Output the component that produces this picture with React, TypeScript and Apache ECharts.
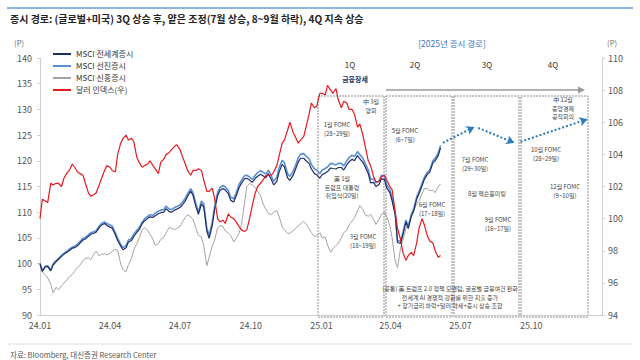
import React, { useEffect, useRef } from 'react';
import * as echarts from 'echarts';

const FONT = '"Noto Sans CJK KR", "Noto Sans", sans-serif';

// observation dates (Mon / Thu)
const dates = [
  '2024-01-01','2024-01-04','2024-01-08','2024-01-11','2024-01-15','2024-01-18','2024-01-22','2024-01-25','2024-01-29','2024-02-01',
  '2024-02-05','2024-02-08','2024-02-12','2024-02-15','2024-02-19','2024-02-22','2024-02-26','2024-02-29','2024-03-04','2024-03-07',
  '2024-03-11','2024-03-14','2024-03-18','2024-03-21','2024-03-25','2024-03-28','2024-04-01','2024-04-04','2024-04-08','2024-04-11',
  '2024-04-15','2024-04-18','2024-04-22','2024-04-25','2024-04-29','2024-05-02','2024-05-06','2024-05-09','2024-05-13','2024-05-16',
  '2024-05-20','2024-05-23','2024-05-27','2024-05-30','2024-06-03','2024-06-06','2024-06-10','2024-06-13','2024-06-17','2024-06-20',
  '2024-06-24','2024-06-27','2024-07-01','2024-07-04','2024-07-08','2024-07-11','2024-07-15','2024-07-18','2024-07-22','2024-07-25',
  '2024-07-29','2024-08-01','2024-08-05','2024-08-08','2024-08-12','2024-08-15','2024-08-19','2024-08-22','2024-08-26','2024-08-29',
  '2024-09-02','2024-09-05','2024-09-09','2024-09-12','2024-09-16','2024-09-19','2024-09-23','2024-09-26','2024-09-30','2024-10-03',
  '2024-10-07','2024-10-10','2024-10-14','2024-10-17','2024-10-21','2024-10-24','2024-10-28','2024-10-31','2024-11-04','2024-11-07',
  '2024-11-11','2024-11-14','2024-11-18','2024-11-21','2024-11-25','2024-11-28','2024-12-02','2024-12-05','2024-12-09','2024-12-12',
  '2024-12-16','2024-12-19','2024-12-23','2024-12-26','2024-12-30','2025-01-02','2025-01-06','2025-01-09','2025-01-13','2025-01-16',
  '2025-01-20','2025-01-23','2025-01-27','2025-01-30','2025-02-03','2025-02-06','2025-02-10','2025-02-13','2025-02-17','2025-02-20',
  '2025-02-24','2025-02-27','2025-03-03','2025-03-06','2025-03-10','2025-03-13','2025-03-17','2025-03-20','2025-03-24','2025-03-27',
  '2025-03-31','2025-04-03','2025-04-07','2025-04-10','2025-04-14','2025-04-17','2025-04-21','2025-04-24','2025-04-28','2025-05-01',
  '2025-05-05','2025-05-08','2025-05-12','2025-05-15','2025-05-19','2025-05-22','2025-05-26','2025-05-29','2025-06-02','2025-06-05',
];

// MSCI ACWI (2023-12-29 = 100)
const acwi = [
  100.0, 98.5, 99.4, 99.4, 98.6, 99.7, 100.4, 100.8, 101.4, 101.8,
  102.2, 102.5, 103.0, 103.1, 103.5, 104.0, 104.6, 104.8, 105.3, 105.7,
  105.9, 106.1, 107.0, 107.5, 107.8, 107.4, 107.1, 106.9, 105.6, 104.5,
  103.4, 102.7, 103.1, 104.2, 104.5, 105.3, 106.1, 106.6, 107.8, 108.3,
  108.8, 109.1, 109.0, 109.3, 109.7, 109.9, 110.0, 110.7, 110.1, 110.0,
  110.4, 110.6, 110.9, 111.4, 112.2, 113.1, 114.1, 113.3, 111.0, 109.6,
  111.6, 111.0, 106.3, 104.9, 107.4, 110.4, 113.2, 114.2, 114.6, 114.3,
  113.6, 112.3, 112.0, 113.1, 114.8, 115.6, 116.5, 116.6, 116.2, 115.8,
  116.6, 117.0, 117.4, 117.1, 116.7, 117.5, 116.3, 115.3, 116.0, 117.8,
  119.3, 118.8, 116.7, 116.2, 117.1, 118.2, 119.8, 120.5, 120.5, 120.0,
  119.5, 118.4, 117.5, 117.3, 116.6, 117.3, 117.6, 117.9, 118.6, 118.5,
  118.4, 118.7, 118.7, 118.2, 119.2, 119.8, 120.3, 120.0, 121.0, 120.4,
  119.7, 118.8, 117.5, 115.7, 115.8, 115.0, 115.4, 116.5, 116.4, 114.7,
  113.8, 112.2, 109.5, 104.1, 103.9, 105.6, 108.1, 106.8, 109.2, 110.2,
  112.6, 113.6, 115.2, 116.4, 117.4, 117.8, 119.6, 120.0, 121.0, 122.5,
];

// MSCI World (developed markets)
const dm = [
  100.0, 98.6, 99.5, 99.6, 98.8, 99.9, 100.6, 101.0, 101.6, 102.0,
  102.4, 102.8, 103.2, 103.4, 103.8, 104.3, 104.9, 105.1, 105.6, 106.0,
  106.2, 106.4, 107.3, 107.8, 108.1, 107.8, 107.5, 107.3, 106.0, 104.9,
  103.8, 103.1, 103.5, 104.6, 104.9, 105.7, 106.5, 107.0, 108.1, 108.7,
  109.2, 109.5, 109.4, 109.8, 110.2, 110.4, 110.5, 111.2, 110.6, 110.5,
  110.9, 111.1, 111.4, 111.9, 112.7, 113.6, 114.6, 113.8, 111.5, 110.1,
  112.2, 111.6, 106.9, 105.5, 108.0, 111.0, 113.8, 114.8, 115.2, 114.9,
  114.2, 112.9, 112.6, 113.7, 115.4, 116.2, 117.1, 117.2, 116.8, 116.4,
  117.2, 117.7, 118.1, 117.8, 117.4, 118.2, 117.0, 116.0, 116.8, 118.6,
  120.1, 119.6, 117.5, 117.0, 117.9, 119.0, 120.6, 121.3, 121.4, 120.9,
  120.4, 119.3, 118.4, 118.2, 117.5, 118.2, 118.5, 118.8, 119.5, 119.4,
  119.2, 119.5, 119.5, 119.0, 120.0, 120.6, 121.1, 120.8, 121.8, 121.2,
  120.5, 119.5, 118.2, 116.4, 116.5, 115.7, 116.1, 117.2, 117.1, 115.3,
  114.4, 112.8, 110.0, 104.5, 104.3, 106.0, 108.5, 107.2, 109.6, 110.6,
  113.0, 114.0, 115.6, 116.8, 117.8, 118.2, 120.0, 120.5, 121.5, 123.0,
];

// MSCI EM
const em = [
  100.0, 98.3, 97.8, 97.2, 96.0, 94.3, 95.4, 94.9, 95.7, 96.2,
  96.8, 97.4, 97.9, 98.5, 99.3, 99.7, 100.6, 101.0, 101.1, 100.8,
  101.8, 102.4, 101.5, 101.8, 101.9, 101.7, 102.0, 102.4, 102.8, 102.6,
  99.9, 98.8, 98.4, 99.8, 101.0, 102.7, 103.9, 105.0, 106.6, 107.0,
  106.5, 105.7, 104.7, 103.5, 103.9, 104.7, 105.1, 106.0, 107.0, 106.9,
  106.6, 106.9, 107.2, 108.0, 109.0, 109.5, 109.1, 108.6, 106.8, 105.5,
  105.2, 103.5, 99.6, 101.2, 103.4, 104.5, 107.0, 107.4, 107.2, 106.4,
  105.9, 105.5, 104.2, 104.9, 105.9, 107.6, 111.8, 115.0, 115.6, 115.3,
  114.8, 114.0, 113.2, 111.6, 110.6, 109.8, 109.5, 110.0, 110.3, 109.2,
  107.2, 106.6, 105.9, 105.9, 106.4, 106.8, 107.3, 107.8, 108.2, 107.7,
  106.8, 106.0, 105.3, 105.4, 106.0, 105.0, 105.2, 103.6, 102.2, 102.9,
  103.5, 104.0, 105.0, 106.0, 106.5, 107.5, 108.3, 108.9, 110.3, 111.3,
  110.5, 109.5, 109.2, 109.6, 108.6, 107.6, 108.6, 109.6, 110.0, 109.1,
  107.4, 105.0, 100.5, 99.2, 103.0, 104.6, 106.8, 107.6, 109.3, 110.3,
  111.7, 112.2, 113.6, 114.6, 114.6, 114.2, 114.3, 113.8, 115.0, 115.5,
];

// Dollar index (right axis)
const dxy = [
  100.0, 101.2, 101.1, 101.0, 102.2, 102.1, 102.2, 102.2, 102.0, 102.5,
  102.85, 103.0, 103.4, 103.2, 102.9, 102.8, 102.7, 102.2, 101.6, 101.4,
  101.5, 101.6, 102.1, 102.5, 103.0, 103.3, 103.2, 103.0, 102.9, 104.0,
  104.7, 105.0, 105.2, 104.9, 105.0, 104.8, 103.8, 103.5, 103.2, 103.3,
  103.4, 103.6, 103.3, 103.1, 102.8, 103.5, 103.7, 104.0, 104.1, 104.3,
  104.5, 104.6, 104.3, 103.9, 103.4, 103.0, 102.7, 103.0, 103.0, 103.1,
  103.0, 102.4, 101.7, 101.7, 101.9, 101.3, 100.0, 99.8, 99.9, 99.7,
  100.3, 100.1, 100.0, 99.8, 99.5, 99.3, 99.2, 99.3, 100.1, 100.8,
  101.6, 102.0, 102.2, 102.4, 102.7, 102.7, 102.7, 102.9, 103.3, 103.9,
  104.7, 104.9, 105.5, 106.0, 105.4, 105.1, 104.7, 104.9, 105.1, 105.7,
  106.5, 107.2, 106.9, 107.0, 107.8, 107.8, 107.7, 108.3, 108.0, 107.8,
  108.1, 107.4, 106.9, 107.3, 107.2, 106.8, 106.8, 106.5, 105.7, 105.9,
  105.2, 104.5, 103.6, 103.3, 102.6, 102.3, 102.3, 102.6, 102.7, 102.4,
  102.0, 101.8, 100.4, 99.4, 98.7, 97.9, 97.4, 97.7, 97.9, 97.7,
  98.5, 99.4, 100.0, 99.6, 98.9, 98.6, 98.5, 98.0, 97.6, 97.7,
];

// schematic 2025 path (left axis), [start, end] per arrow
const forecastSegments: [string, number][][] = [
  [['2025-06-08', 123.5], ['2025-07-19', 126.6]],
  [['2025-07-24', 126.4], ['2025-09-09', 123.5]],
  [['2025-09-17', 123.7], ['2025-12-13', 128.1]],
];

const seriesNames = ['MSCI 전세계증시', 'MSCI 선진증시', 'MSCI 신흥증시', '달러 인덱스(우)'];
const quarterLabels = ['1Q', '2Q', '3Q', '4Q'];

// layout of annotation texts (pixel positions)
const notes: { t: string; x: number; y: number }[] = [
  { t: '中 3월\n양회', x: 371, y: 106 },
  { t: '1월 FOMC\n(28~29일)', x: 337, y: 129 },
  { t: '美 1월\n트럼프 대통령\n취임식(20일)', x: 342, y: 187 },
  { t: '3월 FOMC\n(18~19일)', x: 363, y: 241 },
  { t: '5월 FOMC\n(6~7일)', x: 405, y: 135 },
  { t: '6월 FOMC\n(17~18일)', x: 432, y: 209 },
  { t: '7월 FOMC\n(29~30일)', x: 475, y: 164 },
  { t: '8월 잭슨홀미팅', x: 487, y: 193 },
  { t: '9월 FOMC\n(16~17일)', x: 498, y: 224 },
  { t: '中 12월\n중앙경제\n공작회의', x: 563, y: 108 },
  { t: '10월 FOMC\n(28~29일)', x: 546, y: 154 },
  { t: '12월 FOMC\n(9~10일)', x: 565, y: 191 },
  { t: '(공통) 美 트럼프 2.0 정책 모멘텀, 글로벌 금융여건 완화\n전세계 AI 경쟁적 강화를 위한 지출 증가\n+ 장기금리 하락+달러 약세+증시 상승 조합', x: 450, y: 297 },
];

const boxes = [
  [318, 384],
  [386, 452],
  [454, 519],
  [521, 588],
];
const quarterX = [350, 415, 487, 553];

function fmt(v: number) {
  const d = new Date(v);
  const y = d.getFullYear() % 100;
  const m = d.getMonth() + 1;
  return `${y}.${m < 10 ? '0' + m : m}`;
}

export default function App() {
  const ref = useRef<HTMLDivElement>(null);
  useEffect(() => {
    if (!ref.current) return;
    const chart = echarts.init(ref.current, undefined, { renderer: 'svg' });
    const toPairs = (arr: number[]) => dates.map((d, i) => [d, arr[i]]);
    const ts = (s: string) => new Date(s + 'T00:00:00').getTime();

    const graphic: any[] = [];
    graphic.push({ type: 'line', shape: { x1: 7, y1: 8, x2: 633, y2: 8 }, style: { stroke: '#8db3e2', lineWidth: 2 } });
    graphic.push({
      type: 'text', x: 10, y: 18,
      style: { text: '증시 경로: (글로벌+미국) 3Q 상승 후, 얕은 조정(7월 상승, 8~9월 하락), 4Q 지속 상승', fontSize: 10, fontWeight: 'bold', fontFamily: FONT, fill: '#222', verticalAlign: 'middle' },
    });
    graphic.push({ type: 'text', x: 19, y: 42, style: { text: '(P)', fontSize: 7.5, fontFamily: FONT, fill: '#666', align: 'center', verticalAlign: 'middle' } });
    graphic.push({ type: 'text', x: 612, y: 42, style: { text: '(P)', fontSize: 7.5, fontFamily: FONT, fill: '#666', align: 'center', verticalAlign: 'middle' } });
    graphic.push({ type: 'text', x: 452, y: 43, style: { text: '[2025년 증시 경로]', fontSize: 8.5, fontFamily: FONT, fill: '#3a78c3', align: 'center', verticalAlign: 'middle' } });
    quarterLabels.forEach((q, i) => {
      graphic.push({ type: 'text', x: quarterX[i], y: 64, style: { text: q, fontSize: 8, fontFamily: FONT, fill: '#333', align: 'center', verticalAlign: 'middle' } });
    });
    graphic.push({ type: 'text', x: 355, y: 79, style: { text: '금융장세', fontSize: 7, fontWeight: 'bold', fontFamily: FONT, fill: '#1f3864', align: 'center', verticalAlign: 'middle' } });
    graphic.push({ type: 'line', shape: { x1: 386, y1: 90, x2: 579, y2: 90 }, style: { stroke: '#9a9a9a', lineWidth: 1.5 } });
    graphic.push({ type: 'polygon', shape: { points: [[578, 86.5], [585, 90], [578, 93.5]] }, style: { fill: '#9a9a9a' } });
    boxes.forEach(([a, b]) => {
      graphic.push({ type: 'rect', shape: { x: a, y: 96, width: b - a, height: 221 }, style: { fill: 'none', stroke: '#8c8c8c', lineWidth: 1, lineDash: [2, 1] }, z: -1 });
    });
    notes.forEach((n) => {
      graphic.push({ type: 'text', x: n.x, y: n.y, style: { text: n.t, fontSize: 6, lineHeight: 8.8, fontFamily: FONT, fill: '#444', align: 'center', verticalAlign: 'middle' } });
    });
    graphic.push({ type: 'line', shape: { x1: 8, y1: 344, x2: 632, y2: 344 }, style: { stroke: '#dedede', lineWidth: 1 } });
    graphic.push({ type: 'text', x: 10, y: 354, style: { text: '자료: Bloomberg, 대신증권 Research Center', fontSize: 7.5, fontFamily: FONT, fill: '#555', verticalAlign: 'middle' } });

    const axisGray = '#cfcfcf';
    const option: any = {
      animation: false,
      backgroundColor: '#ffffff',
      textStyle: { fontFamily: FONT },
      grid: { left: 40, right: 38, top: 58, bottom: 45 },
      legend: {
        data: seriesNames,
        orient: 'vertical',
        left: 48,
        top: 45,
        icon: 'rect',
        itemWidth: 18,
        itemHeight: 2,
        itemGap: 4,
        textStyle: { fontSize: 8, color: '#333', fontFamily: FONT },
      },
      xAxis: {
        type: 'time',
        min: ts('2024-01-01'),
        max: ts('2026-01-01'),
        splitNumber: 8,
        axisLine: { lineStyle: { color: axisGray } },
        axisTick: { show: false },
        splitLine: { show: false },
        axisLabel: { fontSize: 9, color: '#555', margin: 6, formatter: (v: number) => (v >= ts('2026-01-01') ? '' : fmt(v)), showMaxLabel: false, hideOverlap: false },
      },
      yAxis: [
        {
          type: 'value', min: 90, max: 140, interval: 5, position: 'left',
          axisLine: { show: true, lineStyle: { color: axisGray } },
          axisTick: { show: true, length: 3, lineStyle: { color: axisGray } },
          splitLine: { show: false },
          axisLabel: { fontSize: 9, color: '#555', margin: 8 },
        },
        {
          type: 'value', min: 94, max: 110, interval: 2, position: 'right',
          axisLine: { show: true, lineStyle: { color: axisGray } },
          axisTick: { show: true, length: 3, lineStyle: { color: axisGray } },
          splitLine: { show: false },
          axisLabel: { fontSize: 9, color: '#555', margin: 6 },
        },
      ],
      graphic,
      series: [
        { name: seriesNames[2], type: 'line', yAxisIndex: 0, data: toPairs(em), symbol: 'none', lineStyle: { width: 1, color: '#a3a3a3' }, itemStyle: { color: '#a3a3a3' }, z: 3 },
        { name: seriesNames[1], type: 'line', yAxisIndex: 0, data: toPairs(dm), symbol: 'none', lineStyle: { width: 1.6, color: '#5b8fd4' }, itemStyle: { color: '#5b8fd4' }, z: 4 },
        { name: seriesNames[0], type: 'line', yAxisIndex: 0, data: toPairs(acwi), symbol: 'none', lineStyle: { width: 1.2, color: '#1f2f63' }, itemStyle: { color: '#1f2f63' }, z: 5 },
        { name: seriesNames[3], type: 'line', yAxisIndex: 1, data: toPairs(dxy), symbol: 'none', lineStyle: { width: 1.2, color: '#e8191f' }, itemStyle: { color: '#e8191f' }, z: 6 },
        {
          name: 'path', type: 'line', yAxisIndex: 0, data: [], symbol: 'none', z: 7,
          markLine: {
            silent: true,
            symbol: ['none', 'arrow'],
            symbolSize: [7, 8],
            label: { show: false },
            lineStyle: { color: '#2b7bc0', type: 'dotted', width: 2 },
            data: forecastSegments.map((s) => [
              { coord: [ts(s[0][0]), s[0][1]] },
              { coord: [ts(s[1][0]), s[1][1]] },
            ]),
          },
        },
      ],
    };
    chart.setOption(option);
    return () => chart.dispose();
  }, []);
  return <div ref={ref} style={{ position: 'fixed', left: 0, top: 0, width: 640, height: 360 }} />;
}
